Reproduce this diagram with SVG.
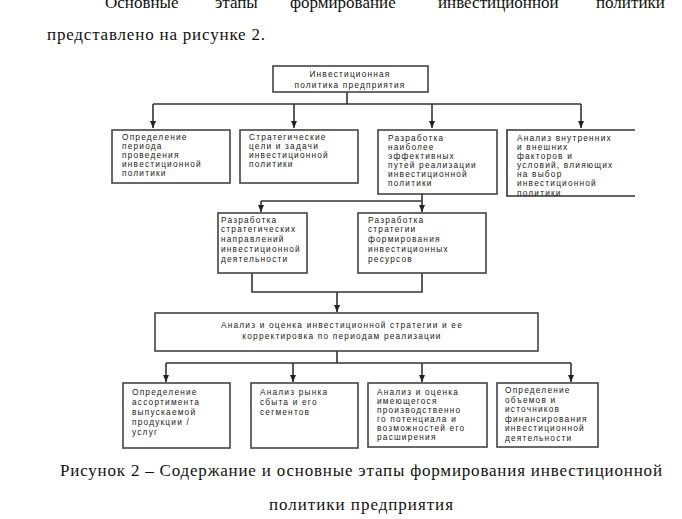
<svg xmlns="http://www.w3.org/2000/svg" width="682" height="519" viewBox="0 0 682 519">
<style>
.page{font-family:"Liberation Serif","Times New Roman","DejaVu Serif",serif;font-size:17px;fill:#111}
.box{fill:#fff;stroke:#444;stroke-width:1.6}
.t{font-family:"Liberation Sans",Arial,sans-serif;font-size:8.3px;letter-spacing:1.2px;fill:#1a1a1a}
.tc{text-anchor:middle}
.ln{fill:none;stroke:#333;stroke-width:1.6}
</style>
<defs>
<marker id="ah" markerWidth="8" markerHeight="6" refX="7" refY="3" orient="auto" markerUnits="userSpaceOnUse">
<path d="M0,0 L7,3 L0,6 z" fill="#222"/>
</marker>
<clipPath id="c4"><rect x="505" y="128" width="140" height="68"/></clipPath>
</defs>
<rect width="682" height="519" fill="#fff"/>

<g id="header" class="page">
<text x="105" y="8">Основные</text>
<text x="215" y="8">этапы</text>
<text x="290" y="8">формирование</text>
<text x="438" y="8">инвестиционной</text>
<text x="596" y="8">политики</text>
<text x="47" y="40" textLength="218">представлено на рисунке 2.</text>
</g>

<g id="connectors">
<path class="ln" d="M347,92 V104 M153,104 H581"/>
<path class="ln" marker-end="url(#ah)" d="M153,104 V128"/>
<path class="ln" marker-end="url(#ah)" d="M294,104 V128"/>
<path class="ln" marker-end="url(#ah)" d="M432,104 V128"/>
<path class="ln" marker-end="url(#ah)" d="M581,104 V128"/>
<path class="ln" d="M422,194 V201 M261,201 H422"/>
<path class="ln" marker-end="url(#ah)" d="M261,201 V212"/>
<path class="ln" marker-end="url(#ah)" d="M422,201 V212"/>
<path class="ln" d="M252,273 V292 H422 V273"/>
<path class="ln" marker-end="url(#ah)" d="M337,292 V312"/>
<path class="ln" d="M337,351 V363 M166,363 H571"/>
<path class="ln" marker-end="url(#ah)" d="M166,363 V382"/>
<path class="ln" marker-end="url(#ah)" d="M293,363 V382"/>
<path class="ln" marker-end="url(#ah)" d="M422,363 V382"/>
<path class="ln" marker-end="url(#ah)" d="M571,363 V382"/>
</g>

<g id="n0">
<rect class="box" x="273" y="66" width="155" height="26"/>
<text class="t tc" x="350" y="77">Инвестиционная</text>
<text class="t tc" x="350" y="88">политика предприятия</text>
</g>

<g id="n1">
<rect class="box" x="112" y="130" width="118" height="53"/>
<text class="t" x="122" y="140">Определение</text>
<text class="t" x="122" y="149">периода</text>
<text class="t" x="122" y="158">проведения</text>
<text class="t" x="122" y="167">инвестиционной</text>
<text class="t" x="122" y="176">политики</text>
</g>

<g id="n2">
<rect class="box" x="240" y="130" width="118" height="53"/>
<text class="t" x="249" y="140">Стратегические</text>
<text class="t" x="249" y="149">цели и задачи</text>
<text class="t" x="249" y="158">инвестиционной</text>
<text class="t" x="249" y="167">политики</text>
</g>

<g id="n3">
<rect class="box" x="378" y="130" width="119" height="64"/>
<text class="t" x="388" y="141">Разработка</text>
<text class="t" x="388" y="150">наиболее</text>
<text class="t" x="388" y="159">эффективных</text>
<text class="t" x="388" y="168">путей реализации</text>
<text class="t" x="388" y="177">инвестиционной</text>
<text class="t" x="388" y="186">политики</text>
</g>

<g id="n4">
<path class="ln" d="M635,130 H507 V196 H635" stroke="#444"/>
<g clip-path="url(#c4)">
<text class="t" x="517" y="141">Анализ внутренних</text>
<text class="t" x="517" y="150">и внешних</text>
<text class="t" x="517" y="159">факторов и</text>
<text class="t" x="517" y="168">условий, влияющих</text>
<text class="t" x="517" y="177">на выбор</text>
<text class="t" x="517" y="186">инвестиционной</text>
<text class="t" x="517" y="196">политики</text>
</g>
</g>

<g id="n5">
<rect class="box" x="218" y="213" width="89" height="60"/>
<text class="t" x="221" y="223">Разработка</text>
<text class="t" x="221" y="232">стратегических</text>
<text class="t" x="221" y="242">направлений</text>
<text class="t" x="221" y="252">инвестиционной</text>
<text class="t" x="221" y="262">деятельности</text>
</g>

<g id="n6">
<rect class="box" x="358" y="213" width="128" height="60"/>
<text class="t" x="368" y="223">Разработка</text>
<text class="t" x="368" y="232">стратегии</text>
<text class="t" x="368" y="242">формирования</text>
<text class="t" x="368" y="252">инвестиционных</text>
<text class="t" x="368" y="262">ресурсов</text>
</g>

<g id="n7">
<rect class="box" x="155" y="313" width="383" height="38"/>
<text class="t tc" x="342" y="328">Анализ и оценка инвестиционной стратегии и ее</text>
<text class="t tc" x="342" y="339">корректировка по периодам реализации</text>
</g>

<g id="n8">
<rect class="box" x="123" y="383" width="107" height="65"/>
<text class="t" x="132" y="395">Определение</text>
<text class="t" x="132" y="405">ассортимента</text>
<text class="t" x="132" y="415">выпускаемой</text>
<text class="t" x="132" y="425">продукции /</text>
<text class="t" x="132" y="435">услуг</text>
</g>

<g id="n9">
<rect class="box" x="251" y="383" width="107" height="65"/>
<text class="t" x="260" y="395">Анализ рынка</text>
<text class="t" x="260" y="405">сбыта и его</text>
<text class="t" x="260" y="415">сегментов</text>
</g>

<g id="n10">
<rect class="box" x="368" y="383" width="119" height="64"/>
<text class="t" x="377" y="395">Анализ и оценка</text>
<text class="t" x="377" y="404">имеющегося</text>
<text class="t" x="377" y="413">производственно</text>
<text class="t" x="377" y="422">го потенциала и</text>
<text class="t" x="377" y="431">возможностей его</text>
<text class="t" x="377" y="440">расширения</text>
</g>

<g id="n11">
<rect class="box" x="497" y="383" width="101" height="64"/>
<text class="t" x="505" y="393">Определение</text>
<text class="t" x="505" y="403">объемов и</text>
<text class="t" x="505" y="412">источников</text>
<text class="t" x="505" y="422">финансирования</text>
<text class="t" x="505" y="431">инвестиционной</text>
<text class="t" x="505" y="441">деятельности</text>
</g>

<g id="caption" class="page">
<text x="60" y="476" textLength="602">Рисунок 2 – Содержание и основные этапы формирования инвестиционной</text>
<text x="269" y="510" textLength="184">политики предприятия</text>
</g>
</svg>
